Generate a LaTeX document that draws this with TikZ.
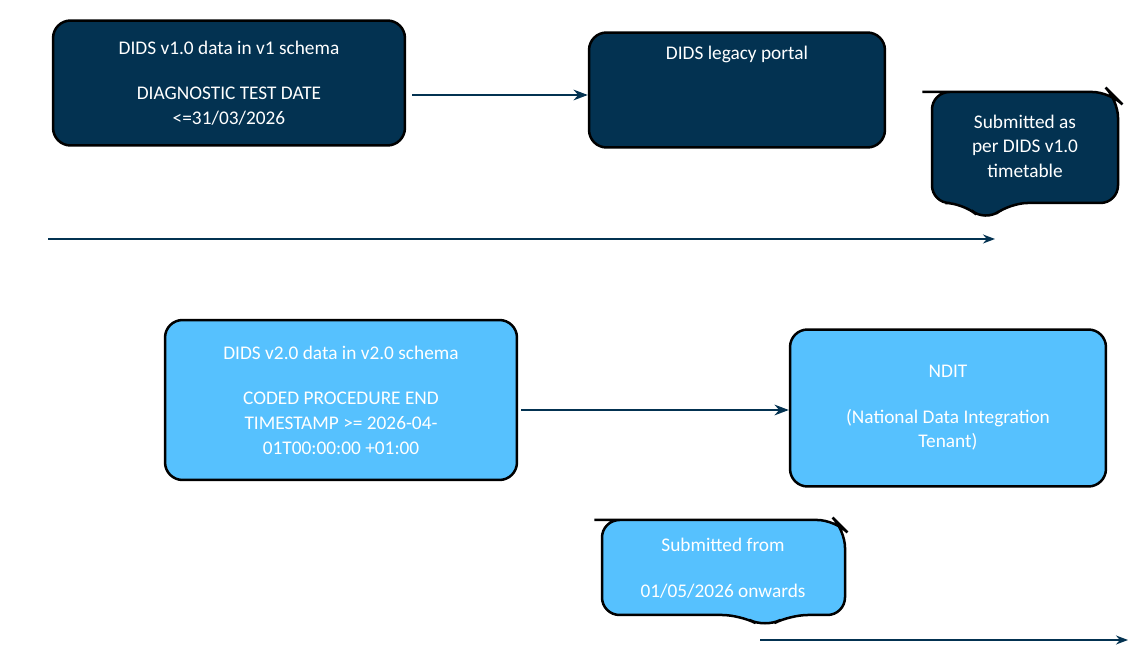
\documentclass[tikz,border=0pt]{standalone}
\usepackage{fontspec}
\setmainfont{Carlito}
\usetikzlibrary{arrows.meta,positioning}
\definecolor{navy}{HTML}{033251}
\definecolor{sky}{HTML}{56C1FE}
\tikzset{
        base/.style={draw=black, line width=0.5mm, rounded corners=10pt, text=white,
                     align=center, font=\fontsize{11}{14}\selectfont},
        old/.style={base, fill=navy},
        new/.style={base, fill=sky},
        myarrow/.style={-Stealth, line width=0.4mm, draw=navy},
        timeline/.style={-Stealth, line width=0.3mm, draw=navy},
}
\begin{document}
\begin{tikzpicture}[x=0.02cm,y=-0.02cm]
    \useasboundingbox (0,0) rectangle (1144,658);

    % DIDS v1.0
    \node[old, minimum width=7.04cm, minimum height=2.5cm] (v1) at (229,83)
        {DIDS v1.0 data in v1 schema\\[12pt]DIAGNOSTIC TEST DATE\\{<=}31/03/2026};
    \node[old, minimum width=5.92cm, minimum height=2.3cm] (portal) at (737,90)
        {DIDS legacy portal\\[28pt]};
    \draw[myarrow] (v1.east) ++(6,12) coordinate (s1) -- (s1 -| portal.west);

    \draw[old, line width=0.5mm] (940,92) -- (1110,92) -- (1118,100) -- (1118,203)
        -- (1010,203) -- (985,222) -- (963,203) -- (932,203) -- (932,92) -- cycle;
    \node[text=white, align=center, font=\fontsize{11}{14}\selectfont] (c1) at (1025,146)
        {Submitted as\\per DIDS v1.0\\timetable};
    \coordinate (t1s) at (48,239);
    \coordinate (t1e) at (995,239);
    \draw[timeline] (t1s) -- (t1e);

    % DIDS v2.0
    \node[new, minimum width=7.04cm, minimum height=3.2cm] (v2) at (341,400)
        {DIDS v2.0 data in v2.0 schema\\[12pt]CODED PROCEDURE END\\TIMESTAMP >= 2026-04-\\01T00:00:00 +01:00};
    \node[new, minimum width=6.32cm, minimum height=3.14cm] (ndit) at (948,408)
        {NDIT\\[12pt](National Data Integration\\Tenant)};
    \draw[myarrow] (v2.east) ++(3,10) coordinate (s2) -- (s2 -| ndit.west);

    \draw[new, line width=0.5mm] (612,520) -- (835,520) -- (845,530) -- (845,615)
        -- (790,615) -- (765,628) -- (740,615) -- (602,615) -- (602,520) -- cycle;
    \node[text=white, align=center, font=\fontsize{11}{14}\selectfont] (c2) at (723,568)
        {Submitted from\\[12pt]01/05/2026 onwards};
    \coordinate (t2s) at (760,640);
    \coordinate (t2e) at (1128,640);
    \draw[timeline] (t2s) -- (t2e);
\end{tikzpicture}
\end{document}
